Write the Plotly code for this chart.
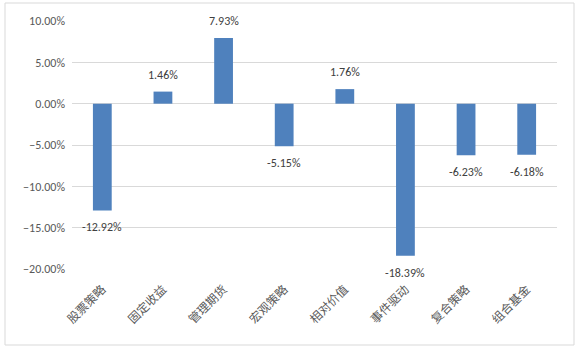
import plotly.graph_objects as go

categories = ["股票策略", "固定收益", "管理期货", "宏观策略", "相对价值", "事件驱动", "复合策略", "组合基金"]
values = [-0.1292, 0.0146, 0.0793, -0.0515, 0.0176, -0.1839, -0.0623, -0.0618]
tick_vals = [0.10, 0.05, 0.0, -0.05, -0.10, -0.15, -0.20]

font_family = "Calibri, 'Noto Sans CJK SC', 'Noto Sans', sans-serif"

fig = go.Figure(go.Bar(
    x=categories, y=values,
    marker=dict(color="#4f81bd", line=dict(width=0)),
    width=0.31,
    cliponaxis=False,
))

for c, v in zip(categories, values):
    fig.add_annotation(x=c, y=v, text=f"{v:.2%}", showarrow=False,
                       yshift=17 if v >= 0 else -17,
                       font=dict(size=12, color="#404040", family=font_family))

fig.update_layout(
    width=580, height=349,
    margin=dict(l=72, r=23, t=21, b=80),
    paper_bgcolor="white", plot_bgcolor="white",
    showlegend=False,
    font=dict(family=font_family, size=12, color="#595959"),
    shapes=[dict(type="rect", xref="paper", yref="paper",
                 x0=-67/485, x1=(574-72)/485, y0=(269-345)/248, y1=(269-3)/248,
                 line=dict(color="#d9d9d9", width=1), fillcolor="rgba(0,0,0,0)", layer="below")],
)
fig.update_xaxes(tickangle=-45, showgrid=False, showline=False, ticks="",
                 ticklabelstandoff=10,
                 tickfont=dict(size=12, color="#595959"))
fig.update_yaxes(range=[-0.20, 0.10], tickvals=tick_vals, tickformat=".2%",
                 showgrid=True, gridcolor="#d9d9d9", gridwidth=1,
                 zeroline=True, zerolinecolor="#d9d9d9", zerolinewidth=1,
                 showline=False, ticks="", ticklabelstandoff=6,
                 tickfont=dict(size=12, color="#595959"))

fig.write_html("out.html")
